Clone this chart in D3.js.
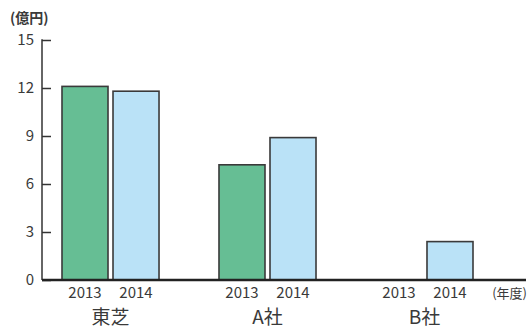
<!DOCTYPE html>
<html>
<head>
<meta charset="utf-8">
<title>Chart</title>
<script src="https://d3js.org/d3.v7.min.js"></script>
<style>
  body { margin: 0; background: #fff; }
  svg text { font-family: "Noto Sans CJK JP", "Noto Sans", sans-serif; fill: #3a3a3a; }
</style>
</head>
<body>
<div id="chart"></div>
<script>
// categories and values
var companies = ["東芝", "A社", "B社"];
var years = ["2013", "2014"];
var values2013 = [12.1, 7.2, null];
var values2014 = [11.8, 8.9, 2.4];
var yTicks = [0, 3, 6, 9, 12, 15];
var yUnit = "(億円)";
var xUnit = "(年度)";

var width = 528, height = 329;
var colors = { "2013": "#66be94", "2014": "#bae2f7" };

var svg = d3.select("#chart").append("svg")
  .attr("width", width)
  .attr("height", height);

var y = d3.scaleLinear().domain([0, 15]).range([280, 40]);

var x0 = d3.scaleBand()
  .domain(companies)
  .range([62, 473])
  .paddingInner(0.382)
  .paddingOuter(0);

var x1 = d3.scaleBand()
  .domain(years)
  .range([0, x0.bandwidth()])
  .paddingInner(0.098)
  .paddingOuter(0);

var rows = [];
companies.forEach(function(c, i) {
  rows.push({ company: c, year: "2013", value: values2013[i] });
  rows.push({ company: c, year: "2014", value: values2014[i] });
});

// bars
svg.append("g").selectAll("rect")
  .data(rows.filter(function(d) { return d.value != null; }))
  .enter().append("rect")
    .attr("x", function(d) { return x0(d.company) + x1(d.year); })
    .attr("y", function(d) { return y(d.value); })
    .attr("width", x1.bandwidth())
    .attr("height", function(d) { return y(0) - y(d.value); })
    .attr("fill", function(d) { return colors[d.year]; })
    .attr("stroke", "#3a3a3a")
    .attr("stroke-width", 1.6);

// y axis, ticks point inward
var yAxis = d3.axisRight(y).tickValues(yTicks).tickSize(9).tickFormat("");
var yg = svg.append("g").attr("transform", "translate(42,0)").call(yAxis);
yg.select(".domain").remove();
yg.selectAll(".tick line").attr("stroke", "#333").attr("stroke-width", 1.5);
svg.append("line")
  .attr("x1", 42).attr("x2", 42)
  .attr("y1", y(15) - 0.75).attr("y2", y(0))
  .attr("stroke", "#333").attr("stroke-width", 1.5);

svg.append("g").selectAll("text")
  .data(yTicks)
  .enter().append("text")
    .attr("x", 34)
    .attr("y", function(d) { return y(d); })
    .attr("dy", "0.36em")
    .attr("text-anchor", "end")
    .style("font-size", "15px")
    .text(function(d) { return d; });

svg.append("text")
  .attr("x", 10).attr("y", 18)
  .attr("dy", "0.36em")
  .style("font-size", "14px")
  .style("font-weight", "bold")
  .text(yUnit);

// baseline
svg.append("line")
  .attr("x1", 42).attr("x2", 526)
  .attr("y1", y(0)).attr("y2", y(0))
  .attr("stroke", "#222").attr("stroke-width", 2.6);

// year labels
svg.append("g").selectAll("text")
  .data(rows)
  .enter().append("text")
    .attr("x", function(d) { return x0(d.company) + x1(d.year) + x1.bandwidth() / 2; })
    .attr("y", 293)
    .attr("dy", "0.36em")
    .attr("text-anchor", "middle")
    .style("font-size", "15px")
    .text(function(d) { return d.year; });

// company labels
svg.append("g").selectAll("text")
  .data(companies)
  .enter().append("text")
    .attr("x", function(d) { return x0(d) + x0.bandwidth() / 2; })
    .attr("y", 317)
    .attr("dy", "0.36em")
    .attr("text-anchor", "middle")
    .style("font-size", "19px")
    .text(function(d) { return d; });

svg.append("text")
  .attr("x", 527).attr("y", 293)
  .attr("dy", "0.36em")
  .attr("text-anchor", "end")
  .style("font-size", "13px")
  .text(xUnit);
</script>
</body>
</html>
